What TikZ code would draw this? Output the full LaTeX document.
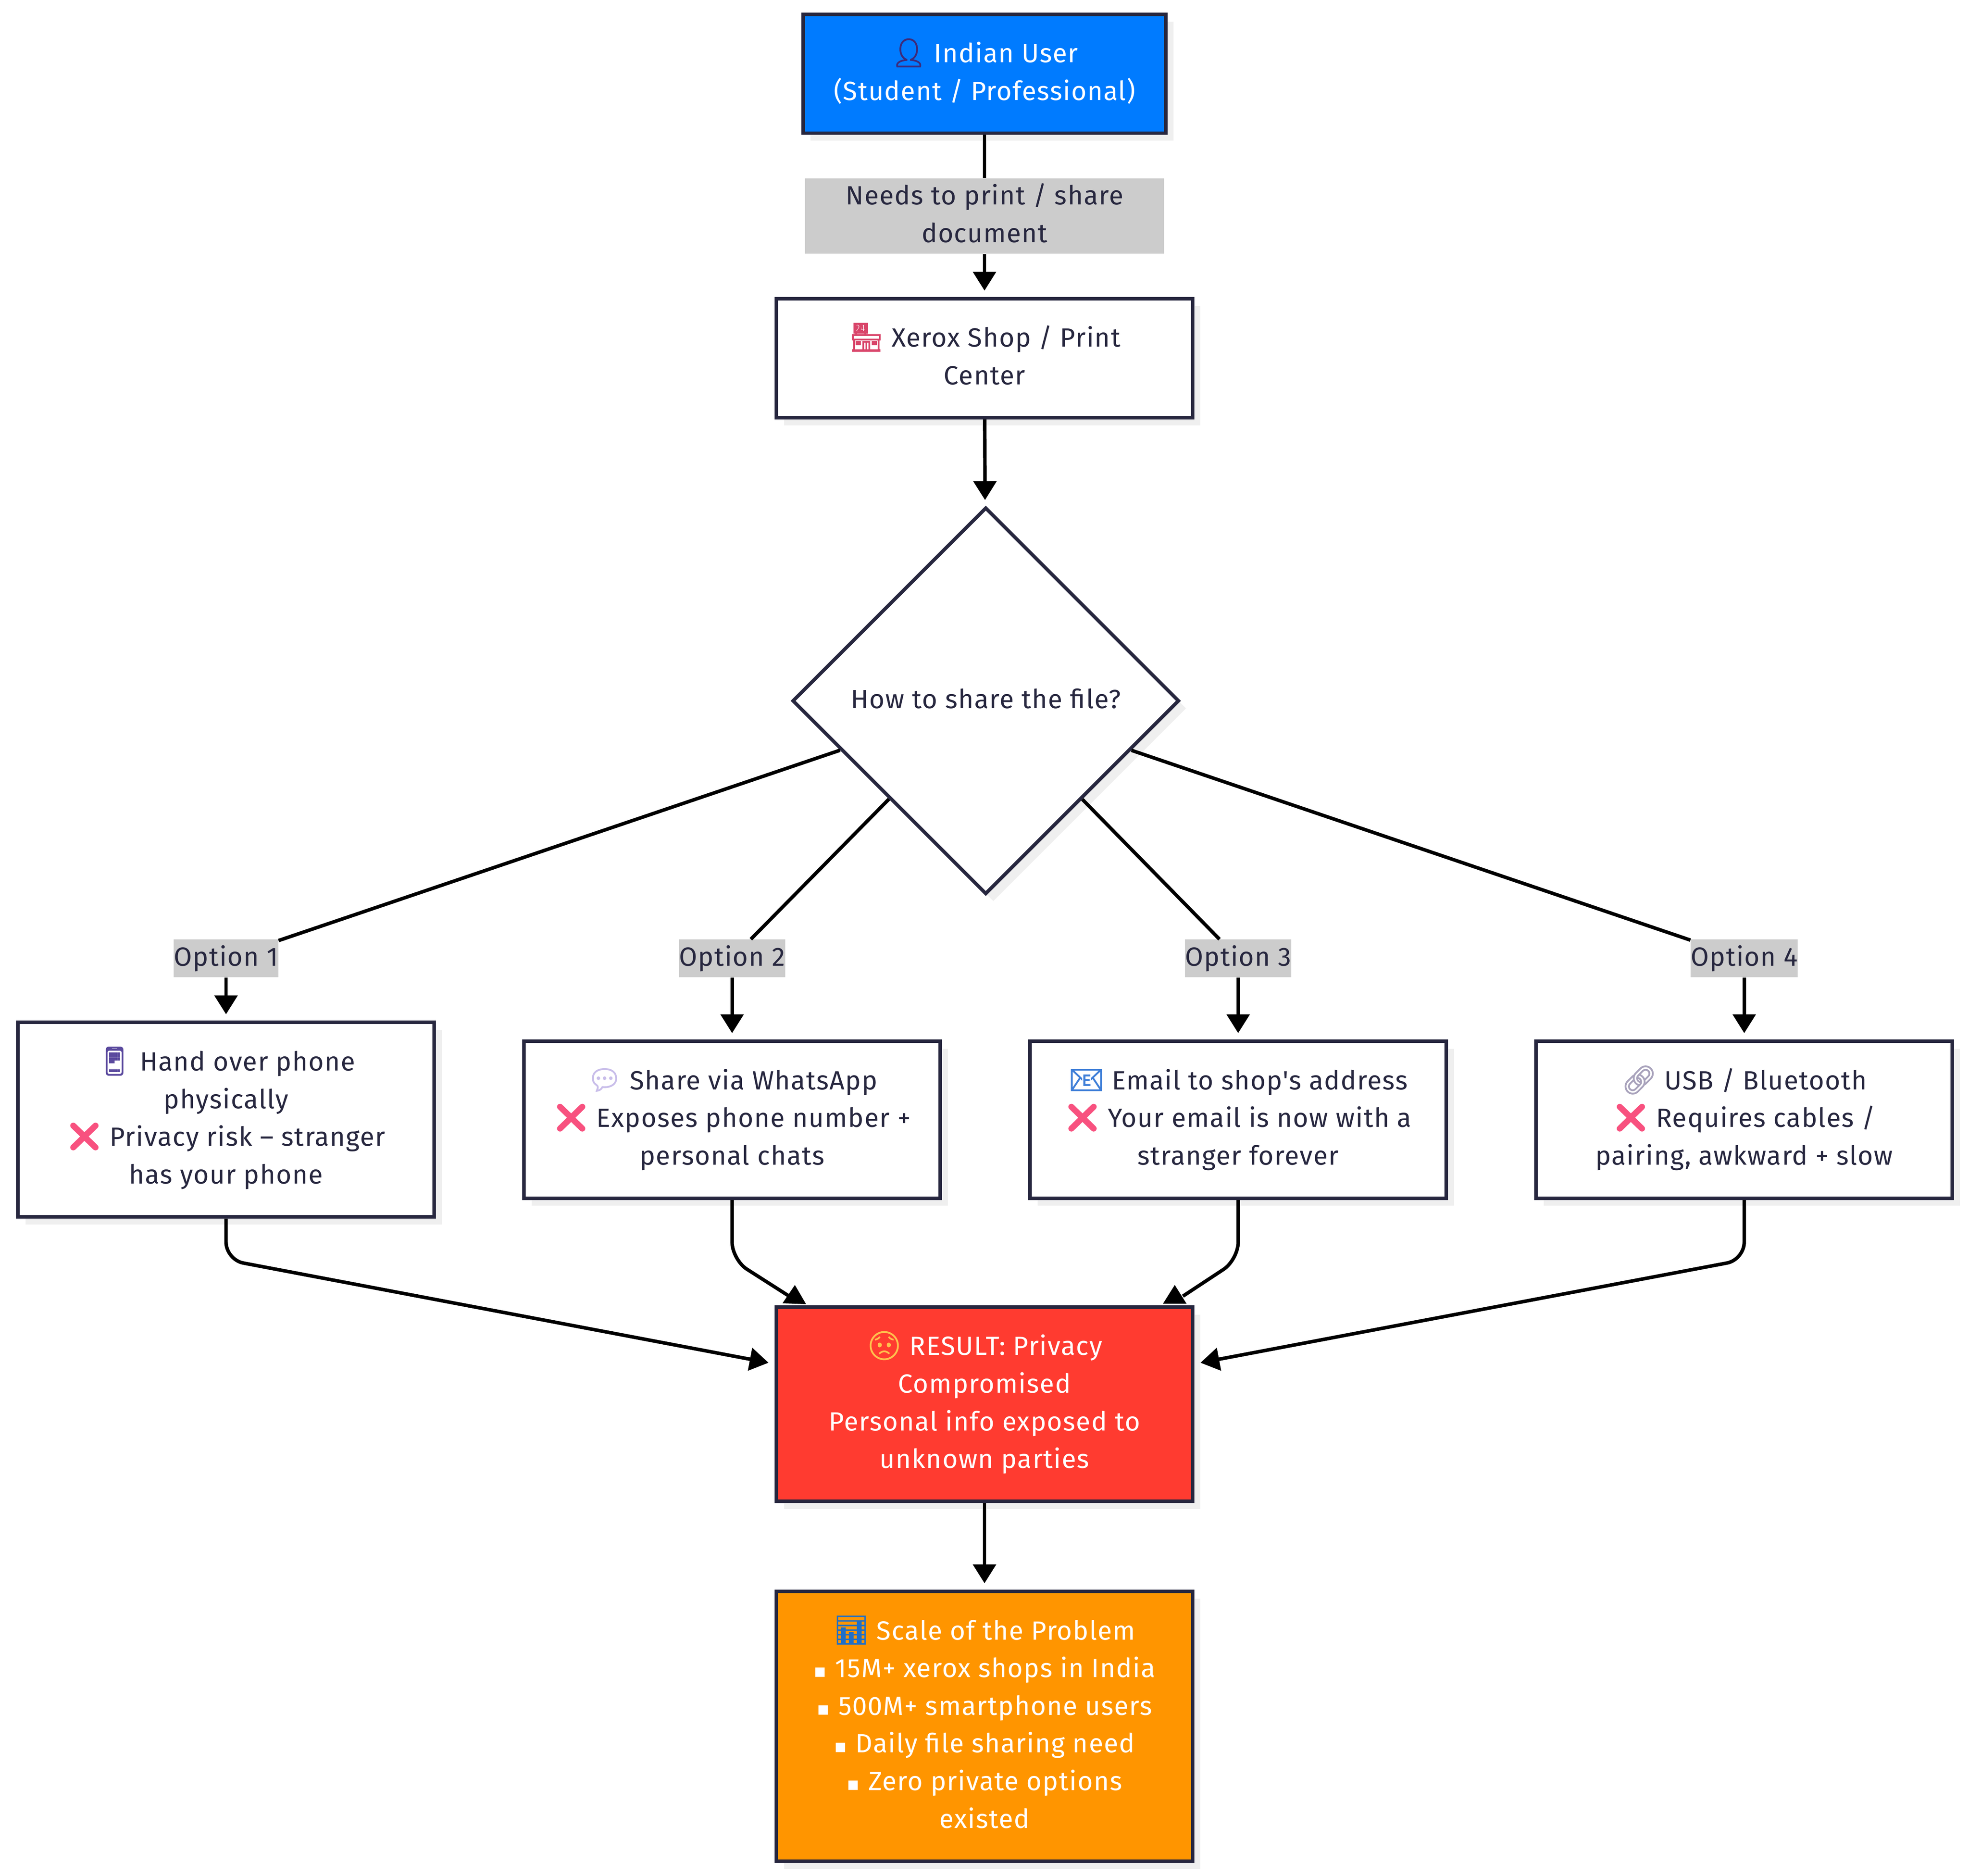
\documentclass[tikz,border=0pt]{standalone}
\usepackage{fontspec}
\setmainfont[Ligatures=TeXOff,LetterSpace=2.8]{Fira Sans}
\newfontfamily\emojifont[Scale=1.06,FakeBold=2.5]{Noto Emoji}
\newfontfamily\bulletfont{DejaVu Sans}
\usetikzlibrary{arrows.meta,shapes.geometric,shadows}
\definecolor{inkdark}{HTML}{27273F}
\definecolor{labelgray}{HTML}{CCCCCC}
\definecolor{shadowgray}{HTML}{EFEFEF}
\definecolor{userblue}{HTML}{007BFF}
\definecolor{alertred}{HTML}{FF3B30}
\definecolor{scaleorange}{HTML}{FF9500}
\definecolor{crosspink}{HTML}{F8517F}
\definecolor{persondark}{HTML}{3D2A7A}
\definecolor{shopred}{HTML}{D9456A}
\definecolor{phonepurple}{HTML}{5B4A9E}
\definecolor{bubblelilac}{HTML}{C9BEEA}
\definecolor{mailblue}{HTML}{3F7FD8}
\definecolor{linkgray}{HTML}{A9A3BC}
\definecolor{faceamber}{HTML}{FFC04D}
\definecolor{chartblue}{HTML}{1F6FC8}
\newcommand{\emo}[2]{\strut\smash{\emojifont\textcolor{#1}{#2}}\hspace{6pt}}
\newcommand{\cross}{\emo{crosspink}{❌}}
\newcommand{\sqb}{\smash{\bulletfont\fontsize{15}{30}\selectfont ▪}\hspace{7pt}}
\tikzset{
  basictext/.style={align=center,inner sep=0pt,font=\fontsize{21}{30}\selectfont,
    execute at begin node=\strut,execute at end node=\strut},
  plainbox/.style={rectangle,basictext,draw=inkdark,line width=2.8pt,fill=white,text=inkdark,
    minimum width=331.5pt,
    drop shadow={shadow xshift=6pt,shadow yshift=-6pt,opacity=1,fill=shadowgray}},
  decision/.style={plainbox,diamond,aspect=1,minimum width=308pt,minimum height=308pt},
  edgelabel/.style={rectangle,basictext,fill=labelgray,text=inkdark},
  flow/.style={draw=black,line width=2.8pt},
  arrow/.style={flow,-{Triangle[length=15pt,width=18pt]},shorten >=5pt},
  bentarrow/.style={arrow,shorten >=0pt,rounded corners=14pt}
}
\begin{document}
\begin{tikzpicture}[x=1pt,y=-1pt]
\useasboundingbox (0,0) rectangle (1568,1493.4);
\node[plainbox,fill=userblue,text=white,minimum width=289pt,minimum height=94.6pt] (user) at (784,58.7) {\emo{persondark}{👤}Indian User\\(Student / Professional)};
\node[edgelabel,minimum width=286pt,minimum height=60pt] (needs) at (784,172) {\strut Needs to print / share\\document};
\node[plainbox,minimum height=94.8pt] (shop) at (784,285.2) {\emo{shopred}{🏪}Xerox Shop / Print\\Center};
\node[decision] (choice) at (785,558) {How to share the file?};
\node[edgelabel,minimum width=83pt,minimum height=30pt] (opta) at (180,763) {Option 1};
\node[edgelabel,minimum width=83pt,minimum height=30pt] (optb) at (583,763) {Option 2};
\node[edgelabel,minimum width=83pt,minimum height=30pt] (optc) at (986,763) {Option 3};
\node[edgelabel,minimum width=83pt,minimum height=30pt] (optd) at (1389,763) {Option 4};
\node[plainbox,minimum height=155pt] (hand) at (180,891.5) {\emo{phonepurple}{📱}Hand over phone\\physically\\\cross Privacy risk – stranger\\has your phone};
\node[plainbox,minimum height=125pt] (chat) at (583,891.5) {\emo{bubblelilac}{💬}Share via WhatsApp\\\cross Exposes phone number +\\personal chats};
\node[plainbox,minimum height=125pt] (mail) at (986,891.5) {\emo{mailblue}{📧}Email to shop's address\\\cross Your email is now with a\\stranger forever};
\node[plainbox,minimum height=125pt] (link) at (1389,891.5) {\emo{linkgray}{🔗}USB / Bluetooth\\\cross Requires cables /\\pairing, awkward + slow};
\node[plainbox,fill=alertred,text=white,minimum height=154.5pt] (result) at (784,1118) {\emo{faceamber}{😟}RESULT: Privacy\\Compromised\\Personal info exposed to\\unknown parties};
\node[plainbox,fill=scaleorange,text=white,minimum height=215pt] (scale) at (784,1374.5) {\emo{chartblue}{📊}Scale of the Problem\\\sqb 15M+ xerox shops in India\\\sqb 500M+ smartphone users\\\sqb Daily file sharing need\\\sqb Zero private options\\existed};
\coordinate (elbowa) at (180,1003);
\coordinate (elbowb) at (583,1003);
\coordinate (elbowc) at (986,1003);
\coordinate (elbowd) at (1389,1003);
\coordinate (tipa) at (612,1085);
\coordinate (endb) at (630,1033);
\coordinate (endc) at (942,1032);
\coordinate (tipd) at (956,1085);
\coordinate (baseb) at (632.5,1038);
\coordinate (pointb) at (633,1023);
\coordinate (basec) at (935.5,1038);
\coordinate (pointc) at (935.5,1023);
\draw[flow] (user) -- (needs);
\draw[arrow] (needs) -- (shop);
\draw[arrow] (shop) -- (choice);
\draw[flow] (choice) -- (opta);
\draw[flow] (choice) -- (optb);
\draw[flow] (choice) -- (optc);
\draw[flow] (choice) -- (optd);
\draw[arrow] (opta) -- (hand);
\draw[arrow] (optb) -- (chat);
\draw[arrow] (optc) -- (mail);
\draw[arrow] (optd) -- (link);
\draw[bentarrow] (hand) -- (elbowa) -- (tipa);
\draw[flow,rounded corners=14pt] (chat) -- (elbowb) -- (endb);
\draw[bentarrow] (baseb) -- (pointb);
\draw[flow,rounded corners=14pt] (mail) -- (elbowc) -- (endc);
\draw[bentarrow] (basec) -- (pointc);
\draw[bentarrow] (link) -- (elbowd) -- (tipd);
\draw[arrow] (result) -- (scale);
\end{tikzpicture}
\end{document}
